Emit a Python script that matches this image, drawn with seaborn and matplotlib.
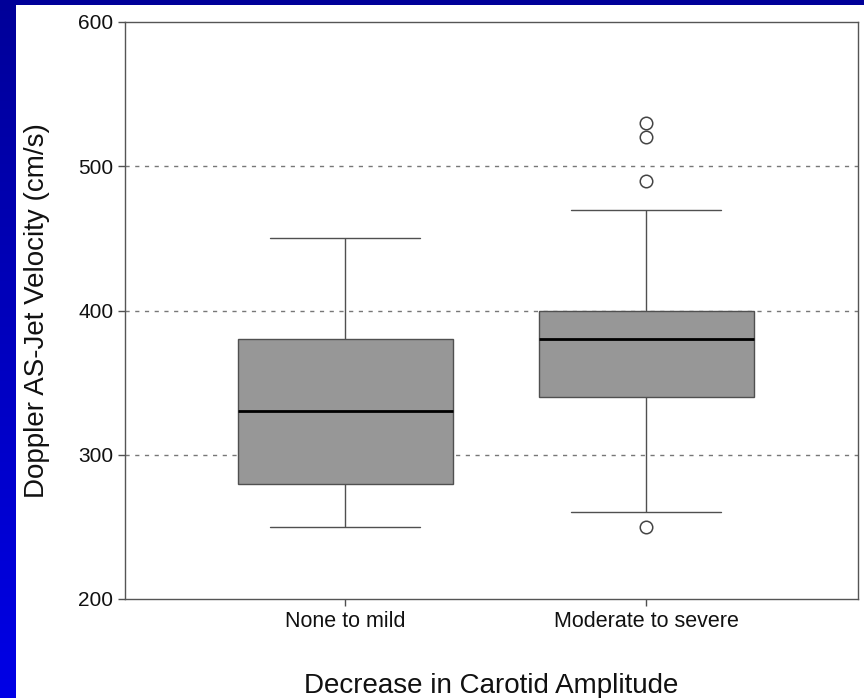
import numpy as np
import pandas as pd
import matplotlib
matplotlib.use("Agg")
import matplotlib.pyplot as plt
import seaborn as sns

# Values (whisker ends, quartiles, median, outliers)
categories = ["None to mild", "Moderate to severe"]
none_to_mild = [250, 280, 330, 380, 450]
moderate_to_severe = [250, 260, 340, 340, 340, 380, 380, 380, 380,
                      400, 400, 400, 400, 470, 490, 520, 530]
y_ticks = [200, 300, 400, 500, 600]

df = pd.DataFrame({
    "group": [categories[0]] * len(none_to_mild) + [categories[1]] * len(moderate_to_severe),
    "value": none_to_mild + moderate_to_severe,
})

sns.set_theme(style="white")
plt.rcParams["font.family"] = ["Liberation Sans", "DejaVu Sans"]

fig = plt.figure(figsize=(8.64, 6.98), dpi=100)
fig.patch.set_facecolor("white")

# blue frame strips (top and left)
bg = fig.add_axes([0, 0, 1, 1], zorder=-10)
bg.set_xlim(0, 864)
bg.set_ylim(698, 0)
bg.axis("off")
grad = np.linspace(0, 1, 256).reshape(-1, 1)
cmap = matplotlib.colors.LinearSegmentedColormap.from_list("b", ["#000099", "#0000e6"])
bg.imshow(grad, cmap=cmap, extent=[0, 16, 698, 0], aspect="auto")
bg.add_patch(plt.Rectangle((0, 0), 864, 5, color="#000099", lw=0))

ax = fig.add_axes([125 / 864, 1 - 599 / 698, (858 - 125) / 864, (599 - 22) / 698])

sns.boxplot(
    data=df, x="group", y="value", order=categories, ax=ax,
    color="#979797", saturation=1, width=0.714, whis=1.4,
    linecolor="#505050", linewidth=1.0, fliersize=9,
    medianprops=dict(color="black", linewidth=2.0),
    flierprops=dict(marker="o", markerfacecolor="none", markeredgecolor="#444444", markeredgewidth=1.1),
    capwidths=0.5,
)

ax.set_ylim(200, 600)
ax.set_xlim(-0.731, 1.704)
ax.set_yticks(y_ticks)
ax.set_yticklabels([str(v) for v in y_ticks], fontsize=15, color="#111111")
ax.tick_params(axis="x", labelsize=15.5, colors="#111111")
ax.tick_params(axis="both", which="major", direction="out", length=5, width=1, color="#505050",
               left=True, bottom=True)
for sp in ax.spines.values():
    sp.set_visible(True)
    sp.set_color("#555555")
    sp.set_linewidth(1.0)

for yv in [300, 400, 500]:
    ax.axhline(yv, color="#777777", linestyle=(0, (3, 4)), linewidth=1.0, zorder=0)

ax.set_ylabel("Doppler AS-Jet Velocity (cm/s)", fontsize=20, color="#111111", labelpad=20)
ax.set_xlabel("Decrease in Carotid Amplitude", fontsize=20, color="#111111", labelpad=30)

fig.savefig("out.png", dpi=100, facecolor=fig.get_facecolor())
